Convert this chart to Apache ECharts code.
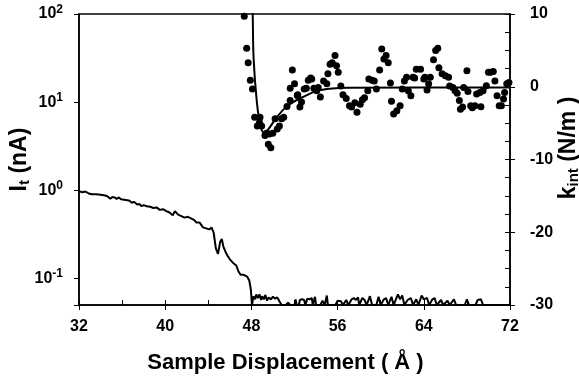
<!DOCTYPE html>
<html>
<head>
<meta charset="utf-8">
<script src="https://cdn.jsdelivr.net/npm/echarts@6/dist/echarts.min.js"></script>
<style>
html,body{margin:0;padding:0;background:#fff;}
#chart{width:579px;height:378px;}
</style>
</head>
<body>
<div id="chart"></div>
<script>
// Tunneling current I_t (nA) vs sample displacement (Å), left log axis
var currentData = [
  [32.0,0.98],[32.3,0.95],[32.6,0.97],[32.9,0.92],[33.2,0.90],[33.6,0.90],[34.0,0.89],[34.3,0.88],
  [34.6,0.86],[34.9,0.80],[35.1,0.84],[35.3,0.83],[35.5,0.80],[35.7,0.83],[35.9,0.79],[36.2,0.78],
  [36.5,0.77],[36.7,0.76],[36.9,0.72],[37.1,0.74],[37.4,0.69],[37.6,0.70],[37.8,0.66],[38.0,0.68],
  [38.3,0.66],[38.6,0.65],[38.9,0.63],[39.2,0.64],[39.5,0.60],[39.8,0.61],[40.1,0.58],[40.4,0.56],
  [40.7,0.52],[40.9,0.58],[41.2,0.53],[41.5,0.51],[41.8,0.49],[42.1,0.50],[42.4,0.48],[42.7,0.46],
  [42.9,0.43],[43.2,0.43],[43.5,0.38],[43.8,0.37],[44.1,0.36],[44.3,0.38],[44.5,0.33],[44.7,0.22],
  [44.9,0.19],[45.1,0.26],[45.25,0.28],[45.4,0.23],[45.6,0.20],[45.8,0.18],[46.0,0.165],[46.3,0.15],
  [46.6,0.14],[46.8,0.12],[47.0,0.11],[47.3,0.11],[47.6,0.105],[47.8,0.095],[47.95,0.075],[48.05,0.05],
  [48.2,0.063],[48.35,0.058],[48.45,0.066],[48.6,0.06],[48.75,0.066],[48.9,0.057],[49.0,0.063],[49.15,0.058],
  [49.3,0.065],[49.45,0.056],[49.6,0.061],[49.8,0.058],[50.0,0.062],[50.2,0.059],[50.4,0.061],[50.6,0.055],
  [50.8,0.05],[51.2,0.05],[51.4,0.053],[51.6,0.05],[52.0,0.05],[52.1,0.058],[52.2,0.05],[52.4,0.05],
  [52.5,0.057],[52.7,0.058],[52.9,0.057],[53.0,0.05],[53.2,0.059],[53.4,0.058],[53.6,0.06],[53.7,0.05],
  [53.9,0.062],[54.0,0.05],[54.4,0.05],[54.6,0.056],[54.8,0.05],[55.0,0.064],[55.1,0.05],[55.8,0.05],
  [56.0,0.056],[56.3,0.055],[56.5,0.05],[56.8,0.057],[57.0,0.05],[57.3,0.058],[57.5,0.06],[57.7,0.057],
  [57.9,0.061],[58.0,0.05],[58.3,0.06],[58.5,0.057],[58.7,0.05],[59.0,0.063],[59.2,0.05],[59.6,0.05],
  [59.8,0.062],[60.0,0.05],[60.3,0.058],[60.5,0.06],[60.7,0.05],[61.0,0.062],[61.2,0.05],[61.6,0.066],
  [61.8,0.058],[62.0,0.064],[62.2,0.05],[62.5,0.057],[62.8,0.06],[63.0,0.05],[63.3,0.058],[63.5,0.05],
  [63.8,0.064],[64.0,0.058],[64.3,0.06],[64.5,0.05],[64.8,0.058],[65.0,0.06],[65.2,0.05],[65.6,0.057],
  [65.8,0.05],[66.2,0.056],[66.4,0.05],[66.8,0.058],[67.0,0.05],[67.8,0.05],[68.0,0.058],[68.2,0.05],
  [68.8,0.05],[69.0,0.057],[69.3,0.058],[69.5,0.05],[72.0,0.05]
];

// Interaction stiffness k_int (N/m) measured points, right axis
var stiffnessPoints = [
  [47.34,9.7],[47.56,5.3],[47.7,3.3],[47.9,0.9],[48.1,-0.3],[48.3,-4.2],[48.55,-5.4],[48.75,-4.9],
  [48.8,-4.2],[48.95,-5.4],[49.26,-6.7],[49.4,-6.4],[49.57,-7.9],[49.66,-6.5],[49.8,-8.4],[49.98,-6.4],
  [50.2,-4.4],[50.4,-5.8],[50.6,-5.4],[50.8,-4.4],[51.0,-4.2],[51.3,-2.7],[51.6,-1.9],[51.6,-0.2],
  [51.8,2.3],[52.0,0.4],[52.26,-1.2],[52.3,-1.1],[52.5,-2.8],[52.65,-2.1],[52.9,-0.3],[53.1,-0.2],
  [53.28,0.9],[53.5,1.2],[53.6,1.05],[53.8,-0.2],[54.06,-0.55],[54.2,-0.1],[54.4,-1.4],[54.7,0.8],
  [55.0,0.4],[55.1,1.8],[55.3,3.1],[55.5,3.3],[55.76,4.3],[55.9,2.9],[56.06,2.0],[56.3,0.1],
  [56.5,-1.1],[56.8,-1.6],[57.1,-2.6],[57.3,-2.8],[57.6,-2.2],[57.8,-3.5],[58.1,-2.4],[58.3,-1.8],
  [58.5,-1.5],[58.8,-0.55],[58.9,1.06],[59.2,0.9],[59.4,0.8],[59.6,-0.3],[59.9,2.3],[60.1,5.2],
  [60.3,3.8],[60.5,4.3],[60.7,3.3],[60.9,0.5],[61.0,-2.0],[61.2,-3.75],[61.5,-3.3],[61.8,-2.6],
  [62.0,-0.3],[62.2,0.8],[62.4,1.3],[62.56,-0.55],[62.8,-1.24],[63.0,1.3],[63.15,1.2],[63.3,2.4],
  [63.7,2.4],[64.0,1.05],[64.1,1.3],[64.3,-0.45],[64.45,0.4],[64.6,1.3],[64.9,3.7],[65.1,5.0],
  [65.3,5.3],[65.4,2.6],[65.7,1.8],[66.0,1.5],[66.3,1.3],[66.4,0.1],[66.7,-0.1],[66.9,-0.55],
  [67.1,-0.9],[67.3,-1.9],[67.4,-3.1],[67.6,-2.8],[67.7,-0.1],[68.0,2.2],[68.1,-0.65],[68.35,-2.6],
  [68.5,-2.9],[68.75,-2.6],[68.9,-1.0],[69.2,-0.8],[69.3,-2.75],[69.5,-0.55],[69.8,0.14],[70.0,2.0],
  [70.2,2.0],[70.45,2.1],[70.6,0.8],[70.8,-1.24],[71.0,-2.6],[71.2,-2.6],[71.4,-1.7],[71.5,-0.8],
  [71.7,0.4],[71.9,0.6]
];

// Fitted stiffness curve (right axis)
var stiffnessFit = [
  [48.05,12],[48.12,10],[48.2,4.0],[48.5,-2.0],[48.85,-5.5],[49.2,-6.4],[49.6,-5.8],[50.3,-4.3],
  [51.2,-2.8],[52.0,-2.0],[52.8,-1.4],[54.0,-0.6],[55.5,-0.25],[57.0,-0.15],[72.0,-0.1]
];

var xTicks = [32, 40, 48, 56, 64, 72];
var leftRange = [0.05, 100];
var rightRange = [-30, 10];

var FONT = '"Liberation Sans", Arial, sans-serif';
var chart = echarts.init(document.getElementById('chart'));
chart.setOption({
  animation: false,
  backgroundColor: '#fff',
  grid: { left: 79, right: 69, top: 14, bottom: 73, containLabel: false, outerBoundsMode: 'none',
          show: true, borderColor: '#000', borderWidth: 1.5, backgroundColor: 'transparent' },
  xAxis: [{
    type: 'value', min: xTicks[0], max: xTicks[xTicks.length - 1], interval: 8, position: 'bottom',
    axisLine: { onZero: false, lineStyle: { color: '#000', width: 1.5 } },
    axisTick: { length: 5, lineStyle: { color: '#000', width: 1 } },
    splitLine: { show: false },
    axisLabel: { color: '#000', fontSize: 16, fontWeight: 'bold', fontFamily: FONT, margin: 14 },
    name: 'Sample Displacement ( Å )', nameLocation: 'middle', nameGap: 47, nameMoveOverlap: false,
    nameTextStyle: { color: '#000', fontSize: 22, fontWeight: 'bold', fontFamily: FONT, padding: [0, 18, 0, 0] }
  }, {
    type: 'value', min: 32, max: 72, interval: 4, position: 'bottom',
    axisLine: { show: false, onZero: false }, axisTick: { inside: true, length: 5, lineStyle: { color: '#000', width: 1 } },
    axisLabel: { show: false }, splitLine: { show: false }
  }],
  yAxis: [{
    type: 'log', logBase: 10, min: leftRange[0], max: leftRange[1], position: 'left',
    axisLine: { show: true, onZero: false, lineStyle: { color: '#000', width: 1.5 } },
    axisTick: { show: true, length: 5, lineStyle: { color: '#000', width: 1 } },
    splitLine: { show: false }, minorTick: { show: false },
    axisLabel: {
      color: '#000', fontSize: 16, fontWeight: 'bold', fontFamily: FONT, margin: 16,
      formatter: function (v) {
        var e = Math.log10(v), r = Math.round(e);
        if (Math.abs(e - r) > 1e-6) return '';
        return '{b|10}{s|' + r + '}';
      },
      rich: {
        b: { fontSize: 16, fontWeight: 'bold', fontFamily: FONT, color: '#000' },
        s: { fontSize: 12, fontWeight: 'bold', fontFamily: FONT, color: '#000', padding: [0, 0, 9, 0] }
      }
    },
    name: 'I{sub|t} (nA)', nameLocation: 'middle', nameGap: 47, nameMoveOverlap: false,
    nameTextStyle: {
      color: '#000', fontSize: 23, fontWeight: 'bold', fontFamily: FONT,
      rich: { sub: { fontSize: 15, fontWeight: 'bold', fontFamily: FONT, color: '#000', padding: [9, 0, 0, 0] } }
    }
  }, {
    type: 'value', min: rightRange[0], max: rightRange[1], interval: 10, position: 'right',
    axisLine: { show: true, onZero: false, lineStyle: { color: '#000', width: 1.5 } },
    axisTick: { show: true, length: 5, lineStyle: { color: '#000', width: 1 } },
    splitLine: { show: false },
    axisLabel: { color: '#000', fontSize: 16, fontWeight: 'bold', fontFamily: FONT, margin: 20 },
    name: 'k{sub|int} (N/m )', nameLocation: 'middle', nameGap: 47, nameMoveOverlap: false,
    nameTextStyle: {
      color: '#000', fontSize: 23, fontWeight: 'bold', fontFamily: FONT, padding: [0, 0, 0, 23],
      rich: { sub: { fontSize: 15, fontWeight: 'bold', fontFamily: FONT, color: '#000', padding: [9, 0, 0, 0] } }
    }
  }, {
    type: 'value', min: rightRange[0], max: rightRange[1], interval: 2.5, position: 'right',
    axisLine: { show: false, onZero: false }, axisTick: { inside: true, length: 5, lineStyle: { color: '#000', width: 1 } },
    axisLabel: { show: false }, splitLine: { show: false }
  }],
  series: [{
    type: 'line', xAxisIndex: 0, yAxisIndex: 0, data: currentData, showSymbol: false,
    lineStyle: { color: '#000', width: 2 }, clip: true
  }, {
    type: 'line', xAxisIndex: 0, yAxisIndex: 1, data: stiffnessFit, showSymbol: false, smooth: 0.3,
    lineStyle: { color: '#000', width: 2 }, clip: true
  }, {
    type: 'scatter', xAxisIndex: 0, yAxisIndex: 1, data: stiffnessPoints, symbol: 'circle', symbolSize: 7,
    itemStyle: { color: '#000', opacity: 1 }
  }]
});
</script>
</body>
</html>
